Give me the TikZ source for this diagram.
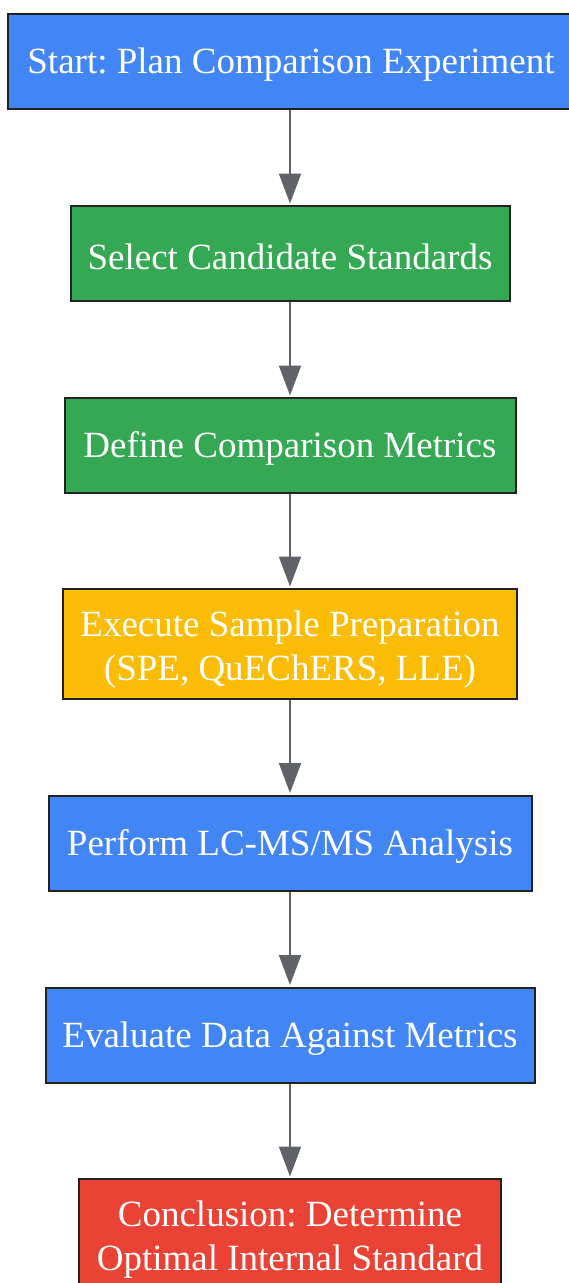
\documentclass[tikz,border=0pt]{standalone}
\usepackage{fontspec}
\setmainfont{Liberation Serif}
\usepackage{xcolor}
\usepackage{tikz}
\usetikzlibrary{positioning,arrows.meta}
\frenchspacing

\definecolor{planblue}{HTML}{4285F4}
\definecolor{setupgreen}{HTML}{34A853}
\definecolor{prepyellow}{HTML}{FBBC05}
\definecolor{resultred}{HTML}{EA4335}
\definecolor{boxline}{HTML}{222222}
\definecolor{arrowgray}{HTML}{5F6368}

\begin{document}
\begin{tikzpicture}[
    x=1pt, y=1pt,
    node distance=192pt,
    stage/.style={rectangle, draw=boxline, line width=2pt, text=white, align=center, minimum height=95pt,
        font=\fontsize{37}{44}\selectfont, execute at begin node={\rule{0pt}{32pt}}},
    tall/.style={minimum height=110pt, execute at begin node={}},
    arrow/.style={-{Triangle[length=30pt,width=22pt]}, draw=arrowgray, line width=2pt, shorten >=1.5pt}
]
    \useasboundingbox (0,0) rectangle (569,-1283);
    \node[stage, fill=planblue, minimum width=566pt, xshift=1pt] (start) at (290,-61.5) {Start: Plan Comparison Experiment};
    \node[stage, fill=setupgreen, minimum width=439pt, below of=start, xshift=-1pt] (select) {Select Candidate Standards};
    \node[stage, fill=setupgreen, minimum width=451pt, below of=select] (metrics) {Define Comparison Metrics};
    \node[stage, tall, fill=prepyellow, minimum width=454pt, below of=metrics, yshift=-6.5pt] (prep) {\rule{0pt}{36pt}Execute Sample Preparation\\(SPE, QuEChERS, LLE)};
    \node[stage, fill=planblue, minimum width=483pt, below of=prep, yshift=-7pt] (lcms) {Perform LC-MS/MS Analysis};
    \node[stage, fill=planblue, minimum width=489pt, below of=lcms] (evaluate) {Evaluate Data Against Metrics};
    \node[stage, tall, fill=resultred, minimum width=422pt, below of=evaluate, yshift=-7pt] (conclusion) {\rule{0pt}{36pt}Conclusion: Determine\\Optimal Internal Standard};

    \draw[arrow] (start.south -| select) -- (select);
    \draw[arrow] (select) -- (metrics);
    \draw[arrow] (metrics) -- (prep);
    \draw[arrow] (prep) -- (lcms);
    \draw[arrow] (lcms) -- (evaluate);
    \draw[arrow] (evaluate) -- (conclusion);
\end{tikzpicture}
\end{document}
